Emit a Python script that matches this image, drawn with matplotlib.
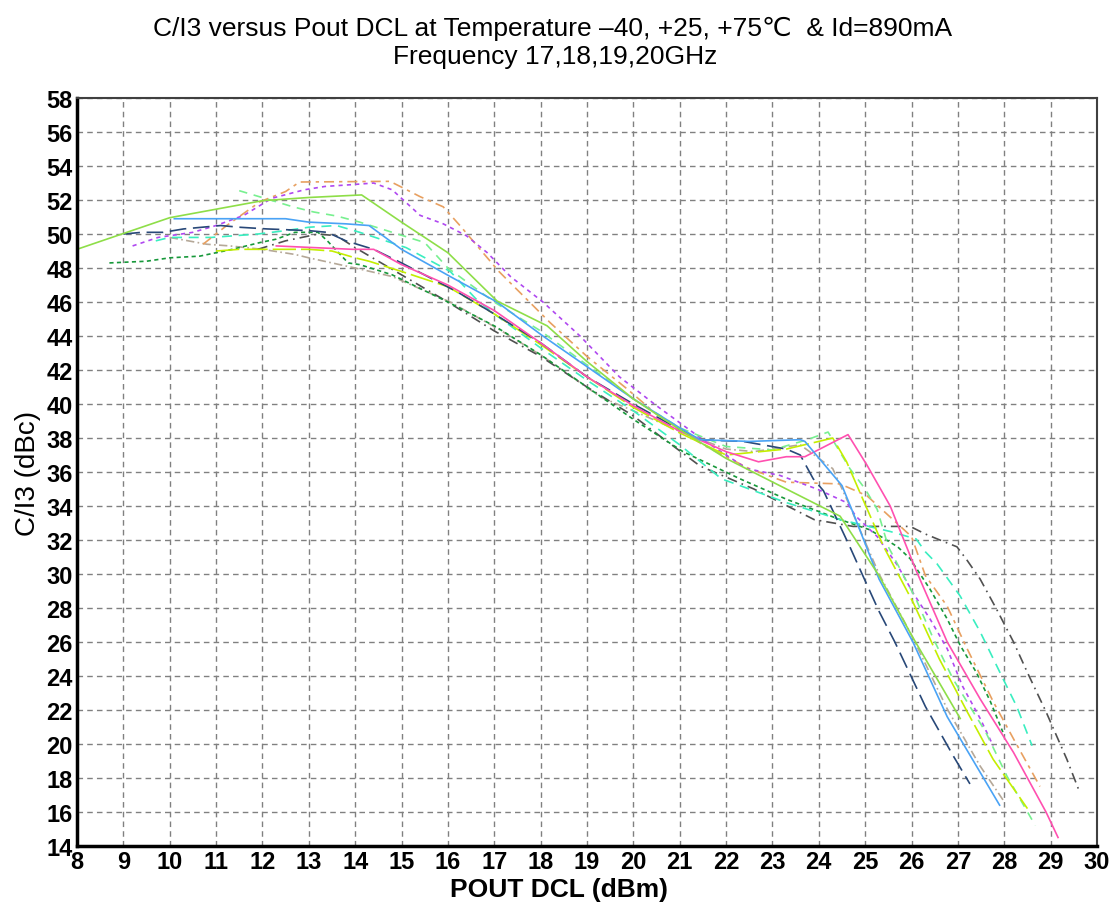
import matplotlib
matplotlib.use("Agg")
import matplotlib.pyplot as plt

plt.rcParams["font.family"] = ["Liberation Sans", "DejaVu Sans"]

# C/I3 (dBc) vs POUT DCL (dBm)
lg_x = [8, 10, 12, 13, 14.14, 15, 16, 17.06, 18.14, 19, 20, 21, 22, 23.3, 24.46, 25.3, 26, 27.05]
lg_y = [49.1, 50.96, 51.96, 52.15, 52.3, 50.7, 48.9, 46.06, 44.6, 42.5, 40.3, 38.5, 36.8, 35.0, 33.4, 29.9, 26.4, 21.5]

blue_x = [10.1, 12.5, 13, 13.8, 14.3, 15, 16.05, 17.06, 18.05, 19, 20, 21, 21.44, 22.5, 23.6, 23.7, 24.5, 24.74, 25.3, 26.03, 26.77, 27.9]
blue_y = [50.9, 50.9, 50.7, 50.6, 50.5, 49.1, 47.5, 46.0, 44.0, 42.2, 40.3, 38.6, 37.9, 37.8, 37.9, 37.8, 35.2, 33.6, 29.7, 26.0, 21.6, 16.4]

navy_x = [9, 9.4, 9.86, 10.3, 11.1, 11.5, 12.1, 13, 13.4, 13.8, 14.4, 15, 16.2, 17, 18, 19, 20, 21, 21.44, 22.37, 23.3, 23.6, 23.88, 24.1, 24.67, 24.95, 25.3, 25.64, 26.3, 26.9, 27.26]
navy_y = [50.0, 50.1, 50.1, 50.3, 50.5, 50.4, 50.3, 50.2, 50.1, 49.6, 49.1, 48.3, 46.6, 45.3, 43.6, 41.6, 40.0, 38.5, 37.9, 37.8, 37.35, 37.0, 35.6, 34.9, 31.6, 29.9, 27.8, 26.0, 22.2, 19.3, 17.65]

pink_x = [12.3, 13.95, 14.4, 15, 16, 17, 18, 19, 20, 21, 22, 22.7, 23.3, 23.7, 24.63, 25.04, 25.54, 26.1, 26.77, 27.48, 28.2, 28.9, 29.16]
pink_y = [49.3, 49.1, 49.1, 48.2, 47.0, 45.5, 43.6, 41.6, 39.9, 38.4, 37.2, 36.6, 36.9, 36.9, 38.2, 36.4, 34.0, 30.2, 26.0, 22.65, 19.5, 16.0, 14.5]

chart_x = [11.0, 11.5, 12, 13, 13.5, 14, 14.3, 15, 16, 17, 18, 19, 20, 21, 22, 23.3, 24.0, 24.3, 24.6, 24.95, 25.4, 26.03, 26.6, 27.2, 27.76, 28.5]
chart_y = [49.0, 49.1, 49.1, 49.1, 49.0, 48.6, 48.4, 47.8, 46.9, 45.3, 43.5, 41.6, 39.8, 38.3, 37.0, 37.35, 37.8, 38.0, 36.6, 34.4, 31.6, 28.35, 25.0, 21.9, 19.1, 16.2]

mint_x = [11.5, 12.1, 12.66, 13.1, 13.6, 14.1, 15.5, 16, 17, 18, 19, 20, 21, 22, 23, 23.75, 24.2, 24.67, 25.0, 25.26, 25.5, 26.1, 26.47, 26.9, 27.6, 28.06, 28.67]
mint_y = [52.55, 52.06, 51.6, 51.3, 51.06, 50.7, 49.5, 48.0, 46.0, 44.3, 42.3, 40.3, 38.6, 37.5, 37.3, 37.9, 38.35, 36.2, 35.0, 33.8, 31.6, 28.5, 26.2, 23.8, 20.7, 18.1, 15.2]

orange_x = [10.72, 11.23, 11.95, 12.5, 12.8, 14.75, 14.97, 15.4, 15.9, 16.26, 17.1, 18.2, 19.0, 19.86, 20.5, 21.5, 22.5, 23.3, 24.46, 25.04, 25.6, 26.0, 26.3, 26.77, 27.2, 27.76, 28.2, 28.77]
orange_y = [49.4, 50.5, 51.9, 52.5, 53.06, 53.1, 52.8, 52.2, 51.6, 50.5, 47.8, 44.8, 42.8, 40.9, 39.4, 37.6, 36.2, 35.4, 35.3, 34.6, 33.2, 32.2, 29.9, 28.1, 25.6, 22.5, 20.3, 17.5]

purple_x = [9.2, 9.75, 10.5, 11, 11.6, 12.2, 12.9, 13.35, 13.9, 14.4, 14.8, 15.4, 15.9, 16.4, 16.85, 17.35, 18.05, 18.85, 19.7, 20.5, 21.5, 22.45, 23.16, 23.96, 24.6, 24.8, 25.26, 25.7, 26.03, 26.4, 26.77, 27.1, 27.48, 27.76]
purple_y = [49.3, 49.8, 50.1, 50.5, 51.1, 52.1, 52.6, 52.8, 52.9, 53.0, 52.6, 51.1, 50.6, 49.9, 48.9, 47.5, 46.0, 44.0, 41.6, 39.9, 37.9, 36.2, 35.8, 35.0, 34.2, 33.4, 32.2, 30.5, 28.9, 27.35, 25.6, 23.4, 21.5, 19.9]

aqua_x = [9.7, 10, 10.9, 11.4, 11.9, 12.5, 13, 13.6, 14.1, 15.1, 16.05, 16.6, 17, 18, 19, 20, 21, 21.9, 23.3, 24.46, 25.54, 26.1, 26.3, 26.55, 27.05, 27.48, 27.98, 28.27, 28.6]
aqua_y = [49.6, 49.8, 49.8, 49.9, 50.0, 50.2, 50.4, 50.5, 50.1, 49.2, 47.8, 46.2, 45.3, 43.3, 41.4, 39.6, 37.6, 35.6, 34.2, 33.2, 32.5, 32.06, 31.3, 30.6, 28.7, 26.6, 23.8, 22.2, 19.9]

dgreen_x = [8.7, 9.5, 10, 10.65, 11, 11.35, 11.95, 12.3, 12.7, 13.2, 13.4, 13.85, 14.1, 14.8, 16, 17, 18, 19, 20, 21.07, 22.3, 23.3, 24.46, 25.1, 25.7, 25.97, 26.4, 26.77, 27.05, 27.4, 27.7, 27.97]
dgreen_y = [48.3, 48.4, 48.6, 48.7, 48.9, 49.1, 49.5, 49.7, 50.1, 50.1, 49.6, 48.3, 48.2, 47.6, 46.0, 44.6, 42.9, 41.0, 39.1, 37.2, 35.6, 34.4, 33.2, 32.6, 31.6, 30.9, 29.1, 27.35, 25.8, 24.2, 22.5, 20.7]

dgray_x = [11.9, 12.5, 13.2, 13.6, 14.0, 15, 16, 17, 18, 19, 20, 20.6, 21.44, 22.6, 23.9, 24.74, 25.97, 26.3, 26.7, 26.98, 27.2, 27.48, 27.84, 28.2, 28.5, 28.9, 29.35, 29.6]
dgray_y = [49.1, 49.6, 50.0, 49.9, 49.2, 47.6, 46.0, 44.3, 42.8, 41.0, 39.3, 38.06, 36.35, 35.0, 33.2, 32.8, 32.8, 32.35, 31.9, 31.6, 30.8, 29.7, 27.9, 26.0, 24.2, 21.9, 19.1, 17.35]

tan_x = [10, 10.8, 11.3, 12, 12.7, 13, 14, 14.8, 16.05, 17.1, 18.05, 19.3, 20, 21, 22, 22.6, 23.6, 24.3, 24.67, 24.95, 25.3, 26.0, 26.77, 27.48, 28.0]
tan_y = [49.8, 49.4, 49.3, 49.1, 48.8, 48.6, 48.0, 47.5, 46.0, 44.4, 42.8, 40.4, 39.6, 38.4, 37.35, 37.2, 37.6, 36.2, 34.0, 32.2, 30.0, 26.4, 22.06, 18.7, 16.6]

x_ticks = list(range(8, 31))
y_ticks = list(range(14, 59, 2))

series = [
    (tan_x, tan_y, "#b5a898", (5, 2, 1, 2)),
    (dgray_x, dgray_y, "#505050", (6, 3, 1, 3)),
    (dgreen_x, dgreen_y, "#17983a", (2.5, 2)),
    (aqua_x, aqua_y, "#3aeec0", (6, 4)),
    (orange_x, orange_y, "#e8a060", (6, 3, 2, 3)),
    (purple_x, purple_y, "#b048f0", (2.5, 2.5)),
    (mint_x, mint_y, "#78f090", (5, 4)),
    (chart_x, chart_y, "#c4ee00", (14, 3)),
    (navy_x, navy_y, "#284878", (10, 4)),
    (pink_x, pink_y, "#ff50b0", None),
    (blue_x, blue_y, "#4aa3f5", None),
    (lg_x, lg_y, "#8ede48", None),
]

fig = plt.figure(figsize=(11.12, 9.12), dpi=100)
ax = fig.add_axes([0.0692, 0.0713, 0.9173, 0.8201])

for xs, ys, col, dash in series:
    ln, = ax.plot(xs, ys, color=col, lw=1.2)
    if dash is not None:
        ln.set_dashes(dash)

ax.set_xlim(8, 30)
ax.set_ylim(14, 58)
ax.set_xticks(x_ticks)
ax.set_yticks(y_ticks)
ax.tick_params(length=0, labelsize=17, pad=3)
for lab in ax.get_xticklabels() + ax.get_yticklabels():
    lab.set_fontweight("bold")
ax.grid(True, color="#808080", lw=1.0, linestyle=(0, (4, 3)))
ax.set_axisbelow(True)
for side in ["left", "bottom"]:
    ax.spines[side].set_linewidth(2.5)
for side in ["top", "right"]:
    ax.spines[side].set_linewidth(1.5)
    ax.spines[side].set_color("#404040")

ax.set_xlabel("POUT DCL (dBm)", fontsize=19, fontweight="bold")
ax.xaxis.set_label_coords(0.4725, -0.042)
ax.set_ylabel("C/I3 (dBc)", fontsize=20, labelpad=4)

fig.text(0.497, 0.968, "C/I3 versus Pout DCL at Temperature \u201340, +25, +75\u2103  & Id=890mA",
         ha="center", va="center", fontsize=19, family=["Liberation Sans", "DejaVu Sans"])
fig.text(0.499, 0.937, "Frequency 17,18,19,20GHz", ha="center", va="center", fontsize=19)

fig.savefig("out.png", dpi=100)
